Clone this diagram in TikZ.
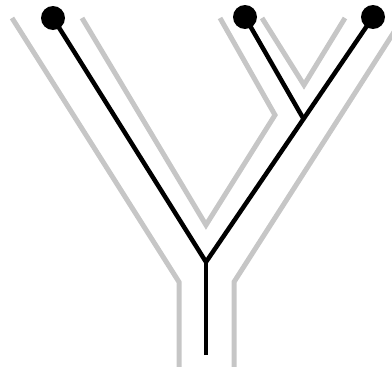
\documentclass[tikz,border=0pt]{standalone}
\definecolor{tubegray}{RGB}{198,198,198}
\tikzset{
  tube/.style={draw=tubegray, line width=5pt, line join=miter},
  branch/.style={draw=black, line width=4.5pt},
  leafdot/.style={circle, fill=black, minimum size=24pt, inner sep=0pt}
}
\begin{document}
\begin{tikzpicture}[x=1pt,y=-1pt]
\useasboundingbox (0,0) rectangle (392,367);
\begin{scope}
\clip (0,0) rectangle (392,367);
% gray tube outline
\draw[tube] (12,18) -- (179,282) -- (179,367);
\draw[tube] (82,18) -- (206,225) -- (275,115) -- (220,18);
\draw[tube] (262,18) -- (304,85) -- (345,18);
\draw[tube] (403,18) -- (234,282) -- (234,367);
\end{scope}
% tree
\coordinate (root) at (206,355);
\coordinate (j1) at (206,262);
\coordinate (j2) at (303,118);
\node[leafdot] (l1) at (53,18) {};
\node[leafdot] (l2) at (245,17) {};
\node[leafdot] (l3) at (373,17) {};
\draw[branch] (root) -- (j1);
\draw[branch] (j1) -- (l1.center);
\draw[branch] (j1) -- (l3.center);
\draw[branch] (j2) -- (l2.center);
\end{tikzpicture}
\end{document}
